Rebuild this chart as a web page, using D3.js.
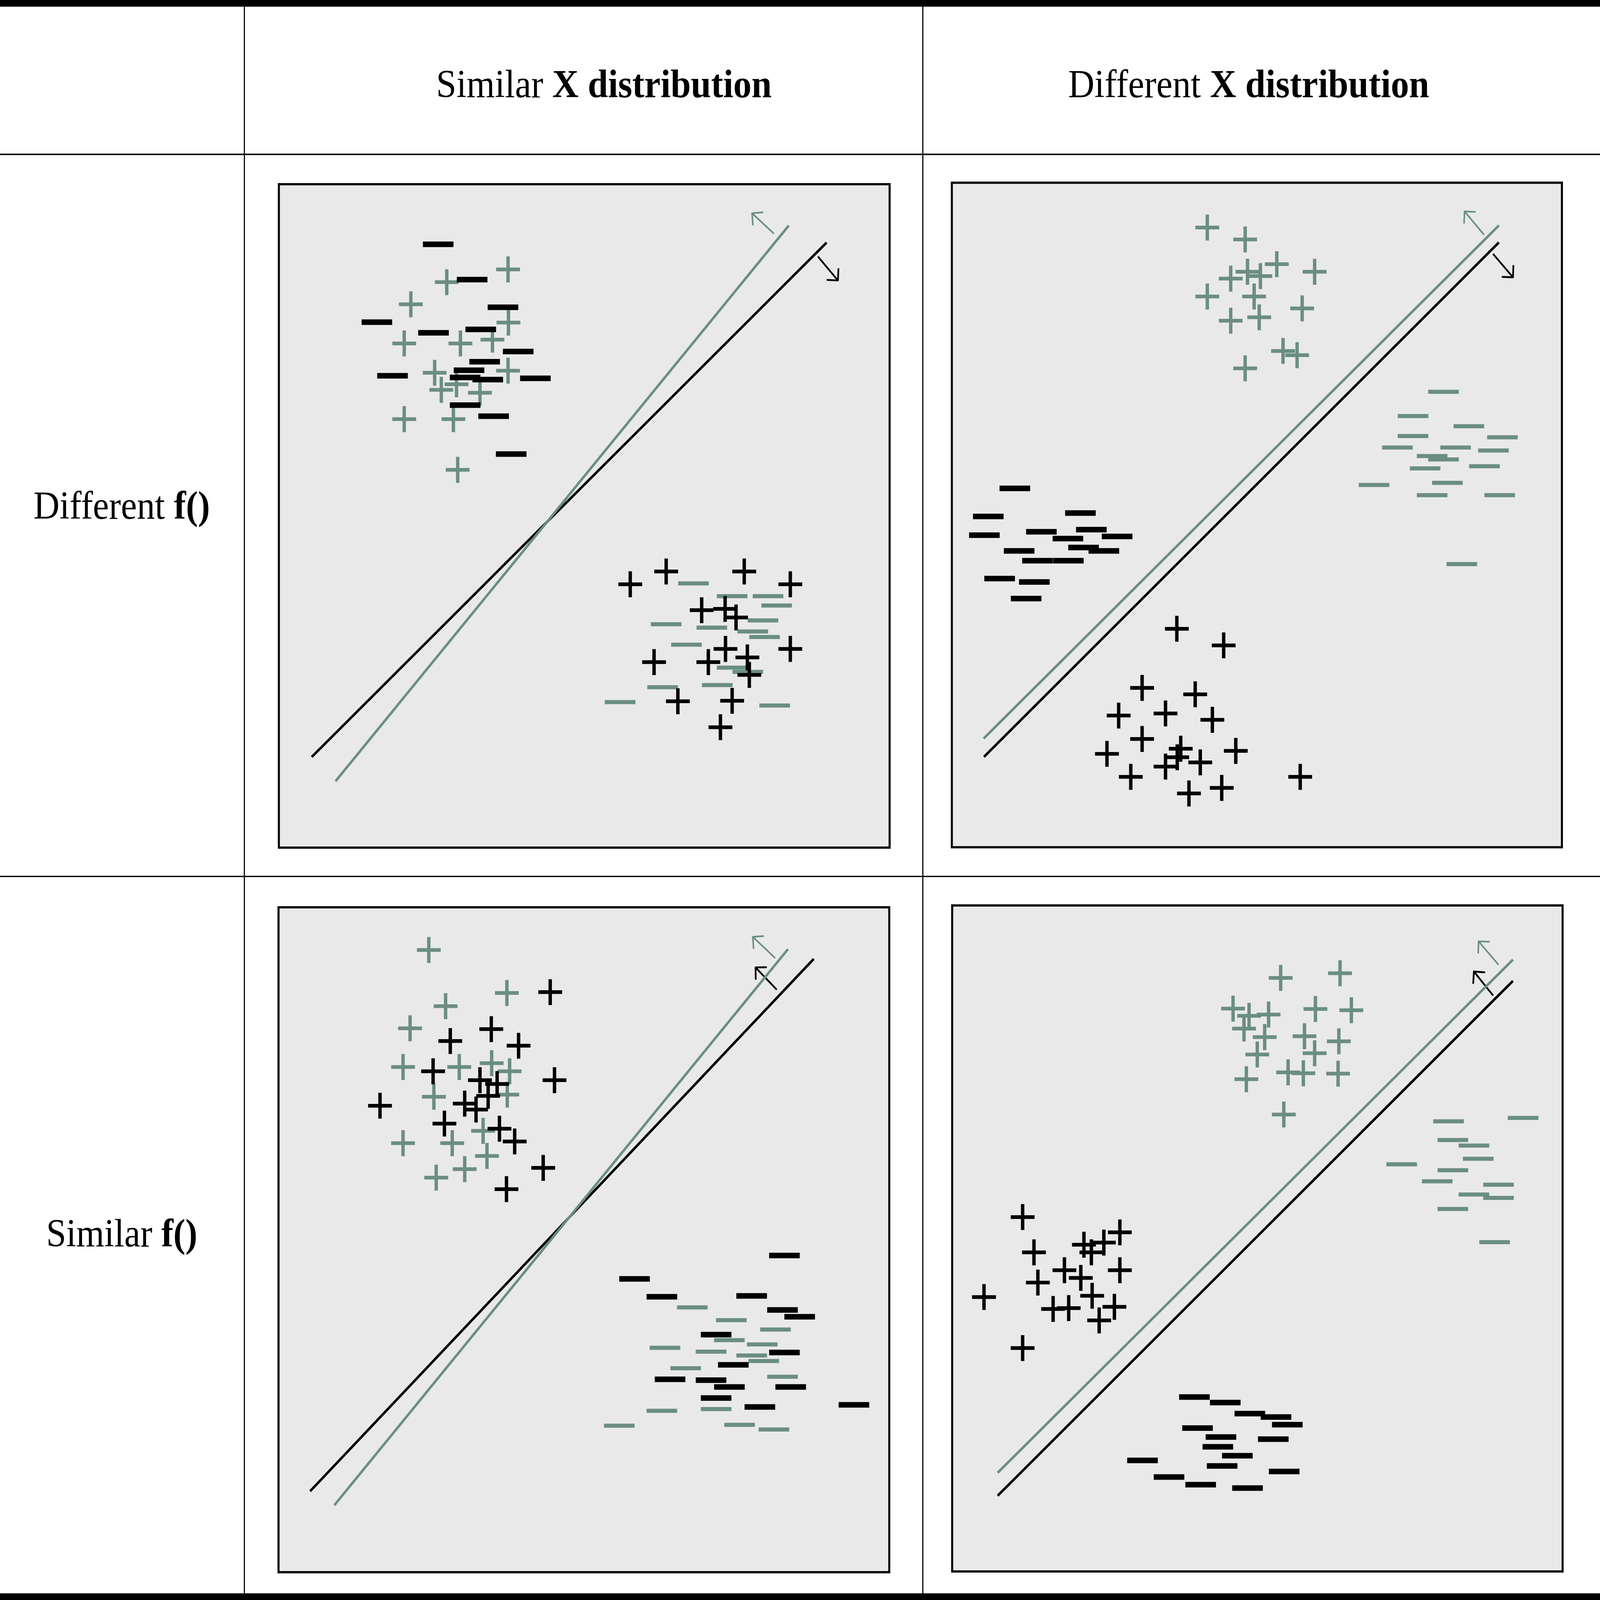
<!DOCTYPE html>
<html><head><meta charset="utf-8">
<script src="https://cdn.jsdelivr.net/npm/d3@7"></script>
<style>html,body{margin:0;padding:0;background:#fff;overflow:hidden;width:100vw;height:100vh;} svg{display:block;width:100vw;height:100vh;}</style>
</head><body>
<script>
// ---------------- DATA ----------------
const colHeaders = [["Similar ", "X distribution"], ["Different ", "X distribution"]];
const rowHeaders = [["Different ", "f()"], ["Similar ", "f()"]];

// Top-left panel (Different f(), Similar X)
const tlBlackMinus = [[409,143],[496,226],[575,291],[252,326],[397,351],[518,343],[614,395],[528,419],[488,439],[292,452],[478,456],[536,461],[658,458],[478,521],[551,547],[596,636]];
const tlGrayPlus = [[588,202],[431,232],[339,284],[589,327],[322,376],[466,376],[548,367],[400,445],[588,440],[456,472],[417,485],[516,492],[322,554],[448,554],[459,673]];
const tlBlackPlus = [[901,942],[993,912],[1193,912],[1311,942],[1084,1003],[1144,1000],[1172,1020],[1145,1094],[1311,1094],[962,1125],[1101,1125],[1201,1114],[1206,1155],[1023,1217],[1162,1216],[1132,1278]];
const tlGrayMinus = [[1063,940],[1162,970],[1254,970],[1276,992],[993,1036],[1110,1044],[1241,1027],[1215,1053],[1245,1066],[1045,1084],[1162,1138],[1202,1148],[984,1184],[1124,1179],[875,1219],[1271,1227]];
const tlBlackLine = [[85,1348],[1404,139]];
const tlGrayLine = [[146,1405],[1307,99]];
const tlGrayArrow = [[1268,117],[1213,70]];
const tlBlackArrow = [[1383,173],[1433,228]];

// Top-right panel (Different f(), Different X)
const trGrayPlus = [[657,108],[754,136],[835,194],[932,212],[760,212],[717,228],[793,222],[657,270],[777,270],[900,298],[717,327],[790,319],[851,398],[887,408],[754,439]];
const trGrayMinus = [[1262,494],[1184,551],[1327,575],[1184,598],[1413,601],[1144,625],[1293,625],[1390,632],[1233,645],[1262,653],[1215,674],[1367,669],[1084,713],[1272,708],[1233,737],[1406,737],[1309,899]];
const trBlackMinus = [[164,721],[96,787],[332,779],[86,831],[232,823],[360,818],[426,834],[300,839],[340,860],[175,868],[392,868],[222,891],[301,891],[125,933],[214,941],[193,980]];
const trBlackPlus = [[579,1051],[699,1090],[490,1190],[626,1205],[430,1255],[550,1250],[670,1265],[490,1310],[400,1345],[589,1333],[580,1353],[639,1365],[730,1338],[550,1375],[461,1399],[610,1438],[694,1425],[895,1399]];
const trGrayLine = [[84,1309],[1404,103]];
const trBlackLine = [[85,1352],[1404,143]];
const trGrayArrow = [[1365,124],[1316,70]];
const trBlackArrow = [[1390,171],[1440,225]];

// Bottom-left panel (Similar f(), Similar X)
const blGrayPlus = [[385,103],[585,204],[428,235],[337,287],[319,378],[463,378],[546,369],[592,388],[398,448],[586,443],[524,528],[319,557],[445,557],[534,587],[477,618],[404,638]];
const blBlackPlus = [[696,202],[545,289],[440,317],[615,328],[396,388],[707,409],[516,409],[560,418],[537,446],[260,469],[477,464],[506,478],[425,511],[566,523],[605,553],[678,615],[584,665]];
const blBlackMinus = [[1296,821],[912,876],[982,918],[1212,916],[1291,949],[1335,965],[1121,1007],[1296,1049],[1165,1078],[1003,1112],[1108,1114],[1155,1130],[1312,1130],[1121,1156],[1233,1177],[1474,1172]];
const blGrayMinus = [[1060,943],[1160,973],[1273,995],[1155,1020],[1239,1030],[990,1038],[1108,1047],[1212,1056],[1243,1069],[1043,1086],[1291,1106],[982,1186],[1121,1182],[873,1221],[1181,1219],[1269,1230]];
const blBlackLine = [[81,1375],[1371,124]];
const blGrayLine = [[143,1408],[1305,101]];
const blGrayArrow = [[1271,121],[1215,72]];
const blBlackArrow = [[1275,195],[1222,144]];

// Bottom-right panel (Similar f(), Different X)
const brGrayPlus = [[845,173],[997,162],[723,245],[764,262],[814,259],[934,246],[1026,249],[751,292],[804,312],[906,310],[994,322],[785,353],[932,350],[864,395],[903,397],[992,398],[757,411],[853,494]];
const brGrayMinus = [[1275,510],[1466,502],[1286,554],[1340,567],[1351,598],[1155,611],[1286,625],[1246,651],[1403,659],[1340,682],[1403,690],[1286,716],[1393,794]];
const brBlackPlus = [[184,735],[433,771],[341,800],[392,795],[360,818],[213,818],[291,860],[433,860],[333,878],[223,889],[85,923],[362,920],[262,951],[302,949],[419,946],[380,978],[184,1043]];
const brBlackMinus = [[624,1158],[703,1171],[766,1197],[833,1205],[862,1223],[632,1231],[692,1252],[826,1257],[684,1275],[734,1296],[491,1307],[695,1320],[854,1333],[559,1346],[640,1364],[760,1372]];
const brGrayLine = [[120,1336],[1440,130]];
const brBlackLine = [[120,1390],[1440,180]];
const brGrayArrow = [[1402,141],[1352,87]];
const brBlackArrow = [[1388,213],[1340,158]];

// ---------------- LAYOUT ----------------
const W = 4705, H = 4317;
const GRAY = "#6b8e82", BLACK = "#000", BG = "#e9e9e9";
const FONT = "'Liberation Serif','Times New Roman',Times,serif";

const panels = [
  {o:[819,495],  box:[820,497,2616,2287],  bm:tlBlackMinus, gp:tlGrayPlus, bp:tlBlackPlus, gm:tlGrayMinus, bl:tlBlackLine, gl:tlGrayLine, ga:tlGrayArrow, ba:tlBlackArrow},
  {o:[2796,490], box:[2799,493,4593,2286], bm:trBlackMinus, gp:trGrayPlus, bp:trBlackPlus, gm:trGrayMinus, bl:trBlackLine, gl:trGrayLine, ga:trGrayArrow, ba:trBlackArrow},
  {o:[819,2445], box:[819,2448,2615,4242], bm:blBlackMinus, gp:blGrayPlus, bp:blBlackPlus, gm:blGrayMinus, bl:blBlackLine, gl:blGrayLine, ga:blGrayArrow, ba:blBlackArrow},
  {o:[2796,2440],box:[2800,2443,4595,4240], bm:brBlackMinus, gp:brGrayPlus, bp:brBlackPlus, gm:brGrayMinus, bl:brBlackLine, gl:brGrayLine, ga:brGrayArrow, ba:brBlackArrow}
];

const svg = d3.select("body").append("svg").attr("viewBox", `0 0 ${W} ${H}`).attr("preserveAspectRatio","none");
svg.append("rect").attr("width", W).attr("height", H).attr("fill", "#fff");

// table rules
svg.append("rect").attr("x",0).attr("y",0).attr("width",W).attr("height",18).attr("fill","#000");
svg.append("rect").attr("x",0).attr("y",4299).attr("width",W).attr("height",18).attr("fill","#000");
svg.append("rect").attr("x",0).attr("y",414.5).attr("width",W).attr("height",4).attr("fill","#000");
svg.append("rect").attr("x",0).attr("y",2363).attr("width",W).attr("height",3.5).attr("fill","#000");
[717, 2712].forEach(x => svg.append("rect").attr("x",x).attr("y",18).attr("width",3.3).attr("height",4281).attr("fill","#000"));

// headers
function label(x, y, parts, size) {
  const t = svg.append("text").attr("x", x).attr("y", y).attr("text-anchor","middle")
    .attr("font-family", FONT).attr("font-size", size).attr("fill","#000");
  t.append("tspan").text(parts[0]);
  t.append("tspan").attr("font-weight","bold").text(parts[1]);
}
label(1776, 262, colHeaders[0], 107);
label(3672, 262, colHeaders[1], 107);
label(358, 1400, rowHeaders[0], 106);
label(358, 3363, rowHeaders[1], 106);

// panels
const K = 1800/1568;
panels.forEach(p => {
  const x = d3.scaleLinear().domain([0,1568]).range([p.o[0], p.o[0] + 1568*K]);
  const y = d3.scaleLinear().domain([0,1568]).range([p.o[1], p.o[1] + 1568*K]);
  const g = svg.append("g");
  const [x0,y0,x1,y1] = p.box;
  g.append("rect").attr("x",x0).attr("y",y0).attr("width",x1-x0).attr("height",y1-y0).attr("fill",BG);

  function arrow(a, color, w) {
    const [tx,ty] = [x(a[0][0]), y(a[0][1])];
    const [hx,hy] = [x(a[1][0]), y(a[1][1])];
    const ang = Math.atan2(ty-hy, tx-hx);
    const L = 31, spread = Math.PI/4;
    const path = d3.path();
    path.moveTo(tx,ty); path.lineTo(hx,hy);
    path.moveTo(hx + L*Math.cos(ang+spread), hy + L*Math.sin(ang+spread));
    path.lineTo(hx,hy);
    path.lineTo(hx + L*Math.cos(ang-spread), hy + L*Math.sin(ang-spread));
    g.append("path").attr("d", path.toString()).attr("fill","none").attr("stroke",color)
      .attr("stroke-width", w).attr("stroke-linecap","round").attr("stroke-linejoin","round");
  }
  arrow(p.ga, GRAY, 4.5);
  arrow(p.ba, BLACK, 5);

  const line = d3.line().x(d => x(d[0])).y(d => y(d[1]));
  g.append("path").attr("d", line(p.bl)).attr("fill","none").attr("stroke",BLACK).attr("stroke-width",7);
  g.append("path").attr("d", line(p.gl)).attr("fill","none").attr("stroke",GRAY).attr("stroke-width",7);

  function plus(data, color) {
    g.selectAll(null).data(data).enter().append("path")
      .attr("d", d => { const cx=x(d[0]), cy=y(d[1]); const q=d3.path();
        q.moveTo(cx-35,cy); q.lineTo(cx+35,cy); q.moveTo(cx,cy-35); q.lineTo(cx,cy+35); return q.toString(); })
      .attr("stroke", color).attr("stroke-width",10).attr("fill","none");
  }
  function minus(data, color, h) {
    g.selectAll(null).data(data).enter().append("rect")
      .attr("x", d => x(d[0]) - 45).attr("y", d => y(d[1]) - h/2)
      .attr("width", 90).attr("height", h).attr("fill", color);
  }
  plus(p.gp, GRAY);
  minus(p.gm, GRAY, 11);
  plus(p.bp, BLACK);
  minus(p.bm, BLACK, 15);

  g.append("rect").attr("x",x0).attr("y",y0).attr("width",x1-x0).attr("height",y1-y0)
    .attr("fill","none").attr("stroke","#000").attr("stroke-width",6);
});
</script>
</body></html>
